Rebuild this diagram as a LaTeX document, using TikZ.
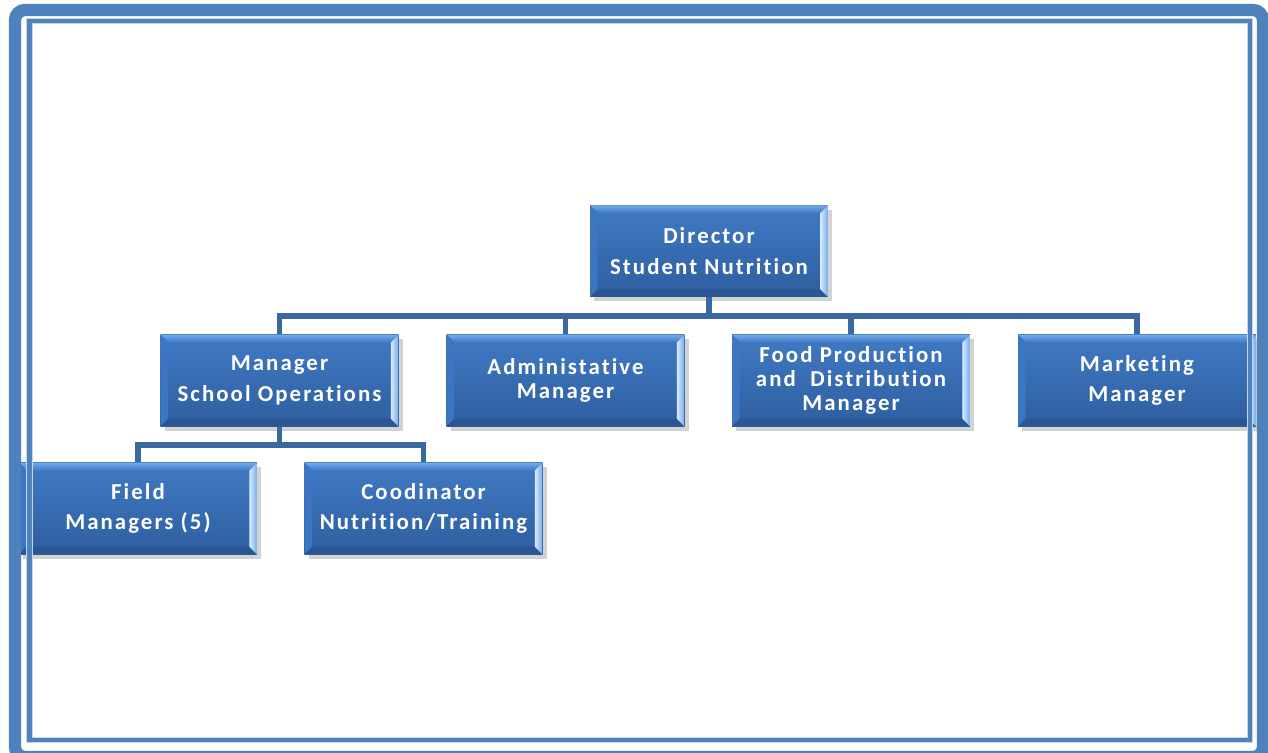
\documentclass[tikz,border=0pt]{standalone}
\usepackage{fontspec}
\usetikzlibrary{calc}
\usetikzlibrary{shadows}
\usepackage{xcolor}
\newfontfamily\carlito[LetterSpace=9, Ligatures=NoCommon]{Carlito}
\definecolor{framebl}{RGB}{79,129,189}
\definecolor{framelt}{RGB}{196,214,238}
\definecolor{linkbl}{RGB}{59,104,158}
\definecolor{facetop}{RGB}{64,122,196}
\definecolor{facebot}{RGB}{46,94,160}
\definecolor{bevtop}{RGB}{116,170,234}
\definecolor{bevright}{RGB}{214,234,252}
\definecolor{bevbot}{RGB}{42,86,148}
\definecolor{bevleft}{RGB}{60,118,194}

\tikzset{
  rolebox/.style={rectangle, minimum width=4.76cm, minimum height=1.83cm, inner sep=0pt,
    align=center, text=white, font=\carlito\bfseries\fontsize{13}{13.5}\selectfont,
    fill=facetop,
    drop shadow={shadow xshift=2.5pt, shadow yshift=-2.5pt, opacity=0.35},
    path picture={
      \fill[top color=facetop, bottom color=facebot] (path picture bounding box.north west)
        rectangle (path picture bounding box.south east);
      \fill[top color=bevtop, bottom color=facetop] (path picture bounding box.north west) -- (path picture bounding box.north east)
        -- ($(path picture bounding box.north east)+(-0.15cm,-0.15cm)$)
        -- ($(path picture bounding box.north west)+(0.15cm,-0.15cm)$) -- cycle;
      \fill[bevleft] (path picture bounding box.north west) -- (path picture bounding box.south west)
        -- ($(path picture bounding box.south west)+(0.15cm,0.15cm)$)
        -- ($(path picture bounding box.north west)+(0.15cm,-0.15cm)$) -- cycle;
      \fill[bevbot] (path picture bounding box.south west) -- (path picture bounding box.south east)
        -- ($(path picture bounding box.south east)+(-0.15cm,0.15cm)$)
        -- ($(path picture bounding box.south west)+(0.15cm,0.15cm)$) -- cycle;
      \fill[left color=bevright, right color=bevtop] (path picture bounding box.north east) -- (path picture bounding box.south east)
        -- ($(path picture bounding box.south east)+(-0.15cm,0.15cm)$)
        -- ($(path picture bounding box.north east)+(-0.15cm,-0.15cm)$) -- cycle;
    }},
  link/.style={draw=linkbl, line width=3.4pt}
}

\begin{document}
\begin{tikzpicture}[x=0.02cm, y=-0.02cm]
	\useasboundingbox (0,0) rectangle (1268,752);
	\fill[white] (0,0) rectangle (1268,752);

	% top
	\node[rolebox] (dir) at (709,251) {Director\\[4pt] Student Nutrition};

	% second row
	\node[rolebox] (mso) at (279.5,380.5) {Manager\\[4pt] School Operations};
	\node[rolebox] (adm) at (565.5,380.5) {Administative\\ Manager};
	\node[rolebox] (fpd) at (851,380.5) {Food Production\\ and~ Distribution\\ Manager};
	\node[rolebox] (mkt) at (1137,380.5) {Marketing\\[4pt] Manager};

	% third row
	\node[rolebox] (fld) at (138,508.5) {Field\\[4pt] Managers (5)};
	\node[rolebox] (coo) at (423.5,508.5) {Coodinator\\[4pt] Nutrition/Training};

	\coordinate (busA) at (0,316);
	\coordinate (busB) at (0,445);

	\draw[link] (dir.south) -- (dir.south |- busA);
	\draw[link] (mso.north) |- (busA -| mkt.north) -- (mkt.north);
	\foreach \n in {adm,fpd}
		\draw[link] (\n.north) -- (\n.north |- busA);

	\draw[link] (mso.south) -- (mso.south |- busB);
	\draw[link] (fld.north) |- (busB -| coo.north) -- (coo.north);

	% frame
	\draw[framelt, line width=3.8pt] (29.5,21) rectangle (1250,740);
	\draw[framebl, line width=2.3pt] (29.5,21) rectangle (1250,740);
	\draw[framebl, line width=7pt, rounded corners=0.2cm] (15,10) rectangle (1263,757);
\end{tikzpicture}
\end{document}
